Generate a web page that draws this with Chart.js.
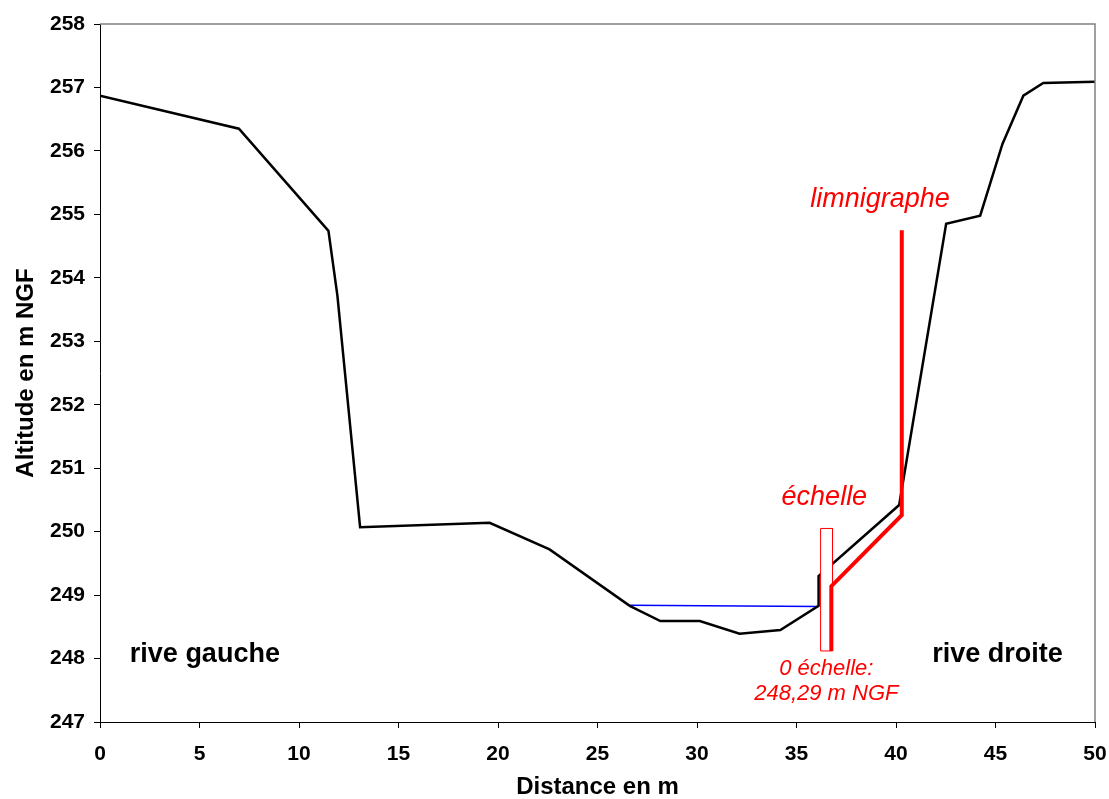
<!DOCTYPE html>
<html>
<head>
<meta charset="utf-8">
<script src="https://cdn.jsdelivr.net/npm/chart.js@4.4.1/dist/chart.umd.min.js"></script>
<style>
  body { margin: 0; background: #fff; }
  #wrap { width: 1109px; height: 799px; position: relative; }
</style>
</head>
<body>
<div id="wrap"><canvas id="profil"></canvas></div>
<script>
// cross-section profile (distance m, altitude m NGF)
const profileX = [0, 6.98, 11.48, 11.93, 13.07, 19.58, 22.59, 26.62, 28.16, 30.14, 32.14, 34.19, 36.11, 36.11, 40.16, 42.52, 44.23, 45.35, 46.40, 47.40, 50];
const profileY = [256.87, 256.35, 254.74, 253.72, 250.07, 250.14, 249.72, 248.83, 248.59, 248.59, 248.39, 248.45, 248.83, 249.30, 250.42, 254.85, 254.98, 256.11, 256.87, 257.07, 257.09];

// water level
const waterX = [26.62, 36.11];
const waterY = [248.84, 248.82];

// limnigraphe pipe
const limniX = [40.29, 40.29, 36.75, 36.75];
const limniY = [254.75, 250.26, 249.14, 248.12];

// echelle (staff gauge) outline
const echelleX = [36.21, 36.81, 36.81, 36.21, 36.21];
const echelleY = [250.05, 250.05, 248.12, 248.12, 250.05];

const xTicks = [0, 50, 5];
const yTicks = [247, 258, 1];

function pts(xs, ys) {
  return xs.map((x, i) => ({ x: x, y: ys[i] }));
}

const FONT = '"Liberation Sans", Arial, sans-serif';

// text notes placed in data units
const notes = [
  { text: 'limnigraphe', x: 39.2, y: 255.12, color: '#ff0000', font: 'italic 27px ' + FONT },
  { text: 'échelle', x: 36.4, y: 250.42, color: '#ff0000', font: 'italic 27px ' + FONT },
  { text: '0 échelle:', x: 36.5, y: 247.74, color: '#ff0000', font: 'italic 22px ' + FONT },
  { text: '248,29 m NGF', x: 36.5, y: 247.35, color: '#ff0000', font: 'italic 22px ' + FONT },
  { text: 'rive gauche', x: 5.27, y: 247.94, color: '#000', font: 'bold 27px ' + FONT },
  { text: 'rive droite', x: 45.1, y: 247.94, color: '#000', font: 'bold 27px ' + FONT }
];

const extras = {
  id: 'extras',
  afterDraw(chart) {
    const { ctx, chartArea: a, scales } = chart;
    ctx.save();
    // frame top + right
    ctx.strokeStyle = '#808080';
    ctx.lineWidth = 1.5;
    ctx.beginPath();
    ctx.moveTo(a.left, a.top);
    ctx.lineTo(a.right, a.top);
    ctx.lineTo(a.right, a.bottom);
    ctx.stroke();

    ctx.textAlign = 'center';
    ctx.textBaseline = 'alphabetic';
    notes.forEach(n => {
      ctx.font = n.font;
      ctx.fillStyle = n.color;
      ctx.fillText(n.text, scales.x.getPixelForValue(n.x), scales.y.getPixelForValue(n.y));
    });
    ctx.restore();
  }
};

new Chart(document.getElementById('profil'), {
  type: 'scatter',
  data: {
    datasets: [
      {
        label: 'limnigraphe',
        data: pts(limniX, limniY),
        showLine: true,
        borderColor: '#ff0000',
        borderWidth: 4,
        pointRadius: 0,
        fill: false,
        order: 0
      },
      {
        label: 'échelle',
        data: pts(echelleX, echelleY),
        showLine: true,
        borderColor: '#ff0000',
        borderWidth: 1,
        backgroundColor: '#ffffff',
        pointRadius: 0,
        fill: 'shape',
        order: 1
      },
      {
        label: 'profil',
        data: pts(profileX, profileY),
        showLine: true,
        borderColor: '#000000',
        borderWidth: 2.5,
        pointRadius: 0,
        fill: false,
        order: 2
      },
      {
        label: 'eau',
        data: pts(waterX, waterY),
        showLine: true,
        borderColor: '#0000ff',
        borderWidth: 1.5,
        pointRadius: 0,
        fill: false,
        order: 3
      }
    ]
  },
  options: {
    responsive: true,
    maintainAspectRatio: false,
    animation: false,
    layout: { padding: { top: 24, right: 14, left: 0, bottom: 0 } },
    plugins: {
      legend: { display: false },
      tooltip: { enabled: false }
    },
    scales: {
      x: {
        type: 'linear',
        min: xTicks[0],
        max: xTicks[1],
        afterFit: s => { s.height = 77; s.paddingLeft = 0; s.paddingRight = 0; },
        ticks: {
          stepSize: xTicks[2],
          color: '#000',
          padding: 14,
          maxRotation: 0,
          font: { family: FONT, size: 21, weight: 'bold' }
        },
        grid: { drawOnChartArea: false, tickLength: 6, color: '#000', tickColor: '#000' },
        border: { color: '#000', width: 1 },
        title: {
          display: true,
          text: 'Distance en m',
          color: '#000',
          padding: { top: 0, bottom: 0 },
          font: { family: FONT, size: 24, weight: 'bold', lineHeight: 1 }
        }
      },
      y: {
        min: yTicks[0],
        max: yTicks[1],
        afterFit: s => { s.width = 100; s.paddingTop = 0; s.paddingBottom = 0; },
        ticks: {
          stepSize: yTicks[2],
          color: '#000',
          padding: 9,
          font: { family: FONT, size: 21, weight: 'bold' }
        },
        grid: { drawOnChartArea: false, tickLength: 6, color: '#000', tickColor: '#000' },
        border: { color: '#000', width: 1 },
        title: {
          display: true,
          text: 'Altitude en m NGF',
          color: '#000',
          padding: { top: 14, bottom: 0 },
          font: { family: FONT, size: 24, weight: 'bold', lineHeight: 1 }
        }
      }
    }
  },
  plugins: [extras]
});
</script>
</body>
</html>
